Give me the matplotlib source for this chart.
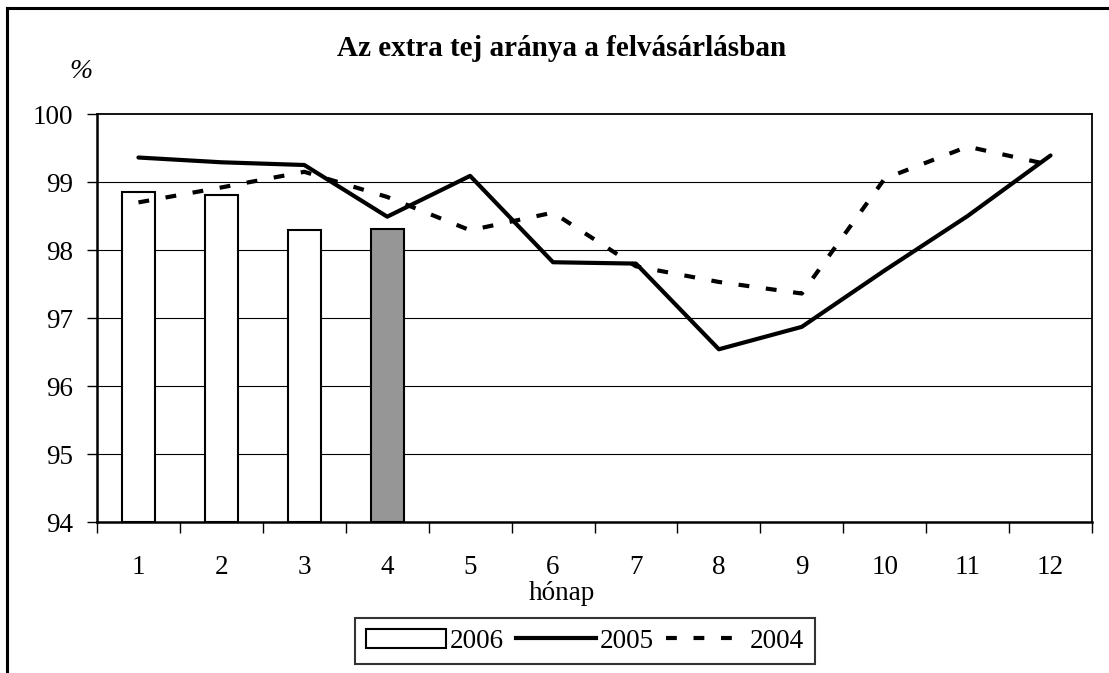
import matplotlib
matplotlib.use("Agg")
import matplotlib.pyplot as plt
from matplotlib.lines import Line2D
from matplotlib.patches import Patch

plt.rcParams["font.family"] = ["Liberation Serif", "DejaVu Serif"]

# ─────────────── adatok ───────────────
honapok = ["1", "2", "3", "4", "5", "6", "7", "8", "9", "10", "11", "12"]
ev_2006 = [98.86, 98.81, 98.29, 98.31]
ev_2005 = [99.36, 99.29, 99.25, 98.49, 99.09, 97.82, 97.80, 96.54, 96.87, 97.70, 98.50, 99.39]
ev_2004 = [98.70, 98.92, 99.15, 98.78, 98.29, 98.55, 97.76, 97.53, 97.36, 99.05, 99.52, 99.25]
bar_szinek = ["white", "white", "white", "#969696"]

W, H = 1109, 673
SZAGGATOTT = (2.6, 4.0)
fig = plt.figure(figsize=(W / 100, H / 100), dpi=100)
ax = fig.add_axes([97 / W, (H - 522) / H, (1092 - 97) / W, (522 - 114) / H])

x = list(range(len(honapok)))
ax.bar(x[:len(ev_2006)], [v - 94 for v in ev_2006], bottom=94, width=0.4,
       color=bar_szinek, edgecolor="black", linewidth=1.5, zorder=3)
ax.plot(x, ev_2005, color="black", linewidth=3, solid_capstyle="round", zorder=4)
ax.plot(x, ev_2004, color="black", linewidth=3, dashes=SZAGGATOTT, zorder=4)

ax.set_xlim(-0.5, len(honapok) - 0.5)
ax.set_ylim(94, 100)
ax.set_yticks(range(94, 101))
for y in range(95, 100):
    ax.axhline(y, color="black", linewidth=0.8, zorder=1)

ax.set_xticks(x)
ax.set_xticklabels(honapok)
ax.set_xticks([i - 0.5 for i in range(len(honapok) + 1)], minor=True)
ax.tick_params(axis="x", which="major", length=0, pad=24, labelsize=19.5)
ax.tick_params(axis="x", which="minor", length=8, width=1, direction="out")
ax.tick_params(axis="y", length=7, width=1, direction="out", pad=10, labelsize=19.5)

for s in ["left", "bottom"]:
    ax.spines[s].set_linewidth(1.8)
for s in ["top", "right"]:
    ax.spines[s].set_linewidth(1.3)

fig.text(562 / W, 1 - 49 / H, "Az extra tej aránya a felvásárlásban",
         ha="center", va="center", fontsize=21, fontweight="bold")
fig.text(81 / W, 1 - 71 / H, "%", ha="center", va="center", fontsize=20, style="italic")
fig.text(562 / W, 1 - 593 / H, "hónap", ha="center", va="center", fontsize=19.5)

# keret (csak felül és bal oldalt látszik)
fig.add_artist(Line2D([7 / W, 1], [1 - 8 / H, 1 - 8 / H], color="black", linewidth=2.2))
fig.add_artist(Line2D([7 / W, 7 / W], [0, 1 - 8 / H], color="black", linewidth=2.2))

handles = [
    Patch(facecolor="white", edgecolor="black", linewidth=1.5),
    Line2D([], [], color="black", linewidth=3),
    Line2D([], [], color="black", linewidth=3, dashes=SZAGGATOTT),
]
leg = fig.legend(handles, ["2006", "2005", "2004"], ncol=3,
                 loc="center", bbox_to_anchor=(585 / W, 1 - 641 / H),
                 fontsize=19.5, frameon=True, fancybox=False, edgecolor="black",
                 handlelength=2.95, handletextpad=0.15, columnspacing=0.45,
                 borderpad=0.4, borderaxespad=0)
leg.get_frame().set_linewidth(1.5)

fig.savefig("out.png", dpi=100)
